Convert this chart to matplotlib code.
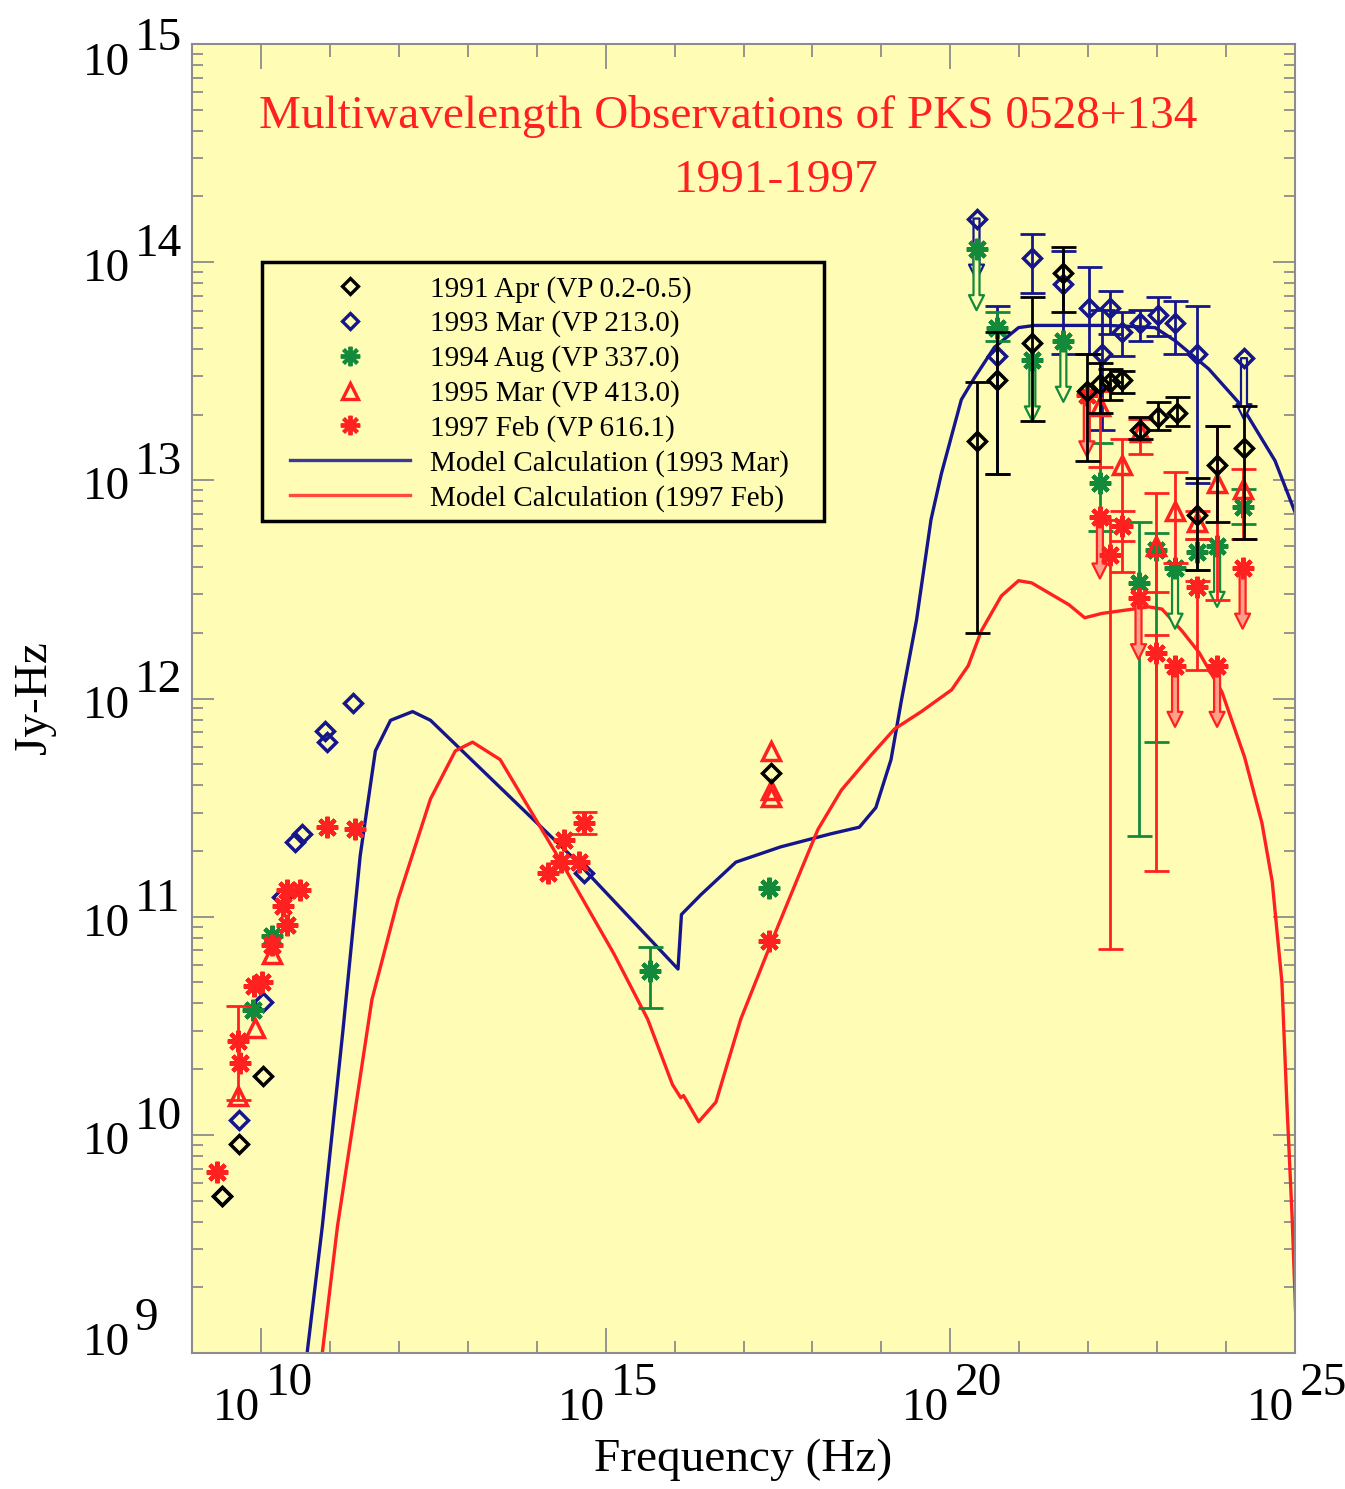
import numpy as np
import matplotlib
matplotlib.use("Agg")
import matplotlib.pyplot as plt
from matplotlib.ticker import FixedLocator, NullFormatter
from matplotlib.lines import Line2D
from matplotlib.patches import Rectangle

plt.rcParams["font.family"] = ["Liberation Serif", "DejaVu Serif"]
nan = np.nan

# All values: log10(frequency / Hz) and log10(nu F_nu / Jy Hz)

# ---- 1991 Apr (VP 0.2-0.5) ----
apr91_lognu = [9.43, 9.68, 10.03, 17.40, 20.38, 20.67, 21.19, 21.64, 21.98,
               22.17, 22.31, 22.49, 22.75, 23.01, 23.29, 23.58, 23.87, 24.26]
apr91_logf = [9.72, 9.96, 10.27, 11.66, 13.18, 13.46, 13.63, 13.95, 13.41,
              13.44, 13.45, 13.46, 13.23, 13.29, 13.31, 12.84, 13.07, 13.15]
apr91_lo = [nan, nan, nan, nan, 12.30, 13.03, 13.27, 13.77, 13.09,
            13.31, 13.37, 13.40, 13.19, 13.23, 13.25, 12.59, 12.81, 12.73]
apr91_hi = [nan, nan, nan, nan, 13.45, 13.68, 13.84, 14.07, 13.58,
            13.54, 13.51, 13.50, 13.29, 13.36, 13.38, 13.01, 13.25, 13.34]
apr91_ul_lognu = []
apr91_ul_logf = []

# ---- 1993 Mar (VP 213.0) ----
mar93_lognu = [9.43, 9.68, 10.03, 10.31, 10.49, 10.60, 10.93, 10.96, 11.34,
               14.68, 20.67, 21.19, 21.64, 22.01, 22.20, 22.31, 22.49, 22.75,
               23.01, 23.26, 23.58]
mar93_logf = [9.72, 10.07, 10.61, 11.09, 11.34, 11.38, 11.85, 11.80, 11.98,
              11.20, 13.57, 14.02, 13.90, 13.79, 13.58, 13.79, 13.68, 13.72,
              13.76, 13.72, 13.58]
mar93_lo = [nan, nan, nan, nan, nan, nan, nan, nan, nan,
            nan, 13.03, 13.86, 13.58, 13.58, 13.23, 13.67, 13.57, 13.64,
            13.66, 13.58, 12.99]
mar93_hi = [nan, nan, nan, nan, nan, nan, nan, nan, nan,
            nan, 13.80, 14.13, 14.05, 13.98, 13.78, 13.87, 13.77, 13.78,
            13.84, 13.82, 13.80]
mar93_ul_lognu = [20.38, 24.26]
mar93_ul_logf = [14.20, 13.56]

# ---- 1994 Aug (VP 337.0) ----
aug94_lognu = [9.88, 10.16, 15.65, 17.37, 20.67, 22.17, 22.73, 22.99, 23.58, 24.24]
aug94_logf = [10.57, 10.91, 10.75, 11.13, 13.70, 12.99, 12.53, 12.68, 12.67, 12.88]
aug94_lo = [nan, nan, 10.58, nan, 13.64, 12.77, 11.37, 11.80, 12.59, 12.80]
aug94_hi = [nan, nan, 10.86, nan, 13.77, 13.17, 12.81, 12.76, 12.73, 12.96]
aug94_ul_lognu = [20.38, 21.19, 21.64, 23.26, 23.87]
aug94_ul_logf = [14.06, 13.55, 13.64, 12.60, 12.70]

# ---- 1995 Mar (VP 413.0) ----
mar95_lognu = [9.67, 9.91, 10.16, 17.40, 17.40, 17.40, 22.17, 22.49, 22.75,
               22.99, 23.26, 23.58, 23.87, 24.24]
mar95_logf = [10.18, 10.49, 10.83, 11.76, 11.58, 11.55, 13.34, 13.07, 13.22,
              12.70, 12.86, 12.81, 12.99, 12.96]
mar95_lo = [nan, nan, nan, nan, nan, nan, 13.06, 12.58, 13.12,
            12.49, 12.62, 12.73, 12.45, 12.73]
mar95_hi = [nan, nan, nan, nan, nan, nan, 13.41, 13.19, 13.28,
            12.94, 13.04, 12.86, 13.25, 13.05]
mar95_ul_lognu = []
mar95_ul_logf = []

# ---- 1997 Feb (VP 616.1) ----
feb97_lognu = [9.36, 9.67, 9.69, 9.90, 10.01, 10.16, 10.32, 10.38, 10.38,
               10.57, 10.96, 11.37, 14.16, 14.35, 14.39, 14.61, 14.68, 17.37,
               22.31, 22.49, 22.99, 23.58]
feb97_logf = [9.83, 10.43, 10.33, 10.68, 10.70, 10.87, 11.05, 10.96, 11.12,
              11.12, 11.41, 11.40, 11.20, 11.25, 11.35, 11.25, 11.43, 10.89,
              12.66, 12.79, 12.21, 12.51]
feb97_lo = [nan, 10.16, nan, nan, nan, nan, nan, nan, nan,
            nan, nan, nan, nan, nan, nan, nan, 11.38, nan,
            10.85, 12.72, 11.21, 12.13]
feb97_hi = [nan, 10.59, nan, nan, nan, nan, nan, nan, nan,
            nan, nan, nan, nan, nan, nan, nan, 11.48, nan,
            12.82, 12.86, 12.29, 12.54]
feb97_ul_lognu = [21.98, 22.17, 22.73, 23.26, 23.87, 24.24]
feb97_ul_logf = [13.39, 12.83, 12.46, 12.15, 12.15, 12.60]

# ---- Model calculations ----
model93_lognu = [10.67, 10.89, 11.19, 11.44, 11.66, 11.88, 12.20, 12.46, 14.56,
                 16.05, 16.10, 16.38, 16.89, 17.54, 18.27, 18.68, 18.92, 19.14,
                 19.29, 19.51, 19.72, 19.87, 20.16, 20.35, 20.64, 20.99, 21.22,
                 22.30, 22.97, 23.26, 23.75, 24.23, 24.71, 25.03]
model93_logf = [9.00, 9.58, 10.48, 11.28, 11.76, 11.90, 11.94, 11.90, 11.26,
                10.76, 11.01, 11.10, 11.25, 11.32, 11.38, 11.41, 11.50, 11.72,
                11.99, 12.36, 12.82, 13.03, 13.37, 13.47, 13.61, 13.70, 13.71,
                13.71, 13.70, 13.64, 13.51, 13.34, 13.09, 12.83]

model97_lognu = [10.89, 11.11, 11.37, 11.61, 11.99, 12.46, 12.82, 13.07, 13.47,
                 14.45, 15.12, 15.61, 15.97, 16.09, 16.13, 16.35, 16.60, 16.96,
                 17.44, 17.83, 18.08, 18.42, 18.85, 19.19, 19.58, 20.02, 20.26,
                 20.45, 20.74, 20.99, 21.18, 21.72, 21.95, 22.20, 22.88, 23.07,
                 23.36, 23.61, 23.94, 24.27, 24.52, 24.67, 24.81, 24.88, 24.96,
                 25.03]
model97_logf = [9.00, 9.58, 10.12, 10.62, 11.08, 11.54, 11.76, 11.80, 11.72,
                11.20, 10.83, 10.53, 10.23, 10.17, 10.18, 10.06, 10.15, 10.53,
                10.91, 11.21, 11.40, 11.58, 11.74, 11.86, 11.94, 12.04, 12.15,
                12.31, 12.47, 12.54, 12.53, 12.43, 12.37, 12.39, 12.42, 12.41,
                12.31, 12.21, 12.03, 11.73, 11.43, 11.16, 10.70, 10.16, 9.61,
                9.00]

BG = "#FFFDB5"
C_BLACK = "#000000"
C_BLUE = "#16168c"
C_GREEN = "#13893a"
C_RED = "#ff2020"
C_AXIS = "#8c8c8c"

fig = plt.figure(figsize=(13.45, 14.89), dpi=100)
ax = fig.add_axes([192 / 1345, 1 - 1353 / 1489, 1103 / 1345, 1309 / 1489])
ax.set_facecolor(BG)
ax.set_xscale("log")
ax.set_yscale("log")
ax.set_xlim(1e9, 1e25)
ax.set_ylim(1e9, 1e15)

for sp in ax.spines.values():
    sp.set_color(C_AXIS)
    sp.set_linewidth(1.5)

ax.xaxis.set_major_locator(FixedLocator([1e10, 1e15, 1e20, 1e25]))
ax.xaxis.set_minor_locator(FixedLocator([10.0 ** k for k in range(9, 26) if k % 5]))
ax.yaxis.set_major_locator(FixedLocator([10.0 ** k for k in range(9, 16)]))
ax.yaxis.set_minor_locator(FixedLocator([m * 10.0 ** k for k in range(9, 15) for m in range(2, 10)]))
for axis in (ax.xaxis, ax.yaxis):
    axis.set_major_formatter(NullFormatter())
    axis.set_minor_formatter(NullFormatter())
ax.tick_params(which="both", direction="in", top=True, right=True,
               color=C_AXIS, width=1.3)
ax.tick_params(axis="x", which="major", length=18)
ax.tick_params(axis="x", which="minor", length=9)
ax.tick_params(axis="y", which="major", length=16)
ax.tick_params(axis="y", which="minor", length=8)

# Model curves
ax.plot(10 ** np.array(model93_lognu), 10 ** np.array(model93_logf),
        color=C_BLUE, lw=2.4, zorder=2)
ax.plot(10 ** np.array(model97_lognu), 10 ** np.array(model97_logf),
        color=C_RED, lw=2.4, zorder=2)

UL_LEN = 0.28  # length of the upper-limit arrows, in decades


def draw_series(lognu, logf, lo, hi, ul_nu, ul_f, color, marker, ms, mew, fill, z):
    lognu = np.asarray(lognu, float)
    logf = np.asarray(logf, float)
    lo = np.asarray(lo, float)
    hi = np.asarray(hi, float)
    x = 10 ** lognu
    y = 10 ** logf
    has = ~np.isnan(lo)
    if has.any():
        ax.errorbar(x[has], y[has],
                    yerr=[y[has] - 10 ** lo[has], 10 ** hi[has] - y[has]],
                    fmt="none", ecolor=color, elinewidth=2.0, capsize=9,
                    capthick=2.0, zorder=z)
    for un, uf in zip(ul_nu, ul_f):
        ax.annotate("", xy=(10 ** un, 10 ** (uf - UL_LEN)), xytext=(10 ** un, 10 ** uf),
                    arrowprops=dict(arrowstyle="simple,head_length=0.6,head_width=0.6,tail_width=0.24",
                                    fc=fill, ec=color, lw=1.6, shrinkA=0, shrinkB=0,
                                    mutation_scale=18),
                    zorder=z)
    allx = np.concatenate([x, 10 ** np.asarray(ul_nu, float)])
    ally = np.concatenate([y, 10 ** np.asarray(ul_f, float)])
    ax.plot(allx, ally, ls="none", marker=marker, ms=ms, mfc="none",
            mec=color, mew=mew, zorder=z + 0.1)


ASTER = (8, 2, 0)
draw_series(mar93_lognu, mar93_logf, mar93_lo, mar93_hi, mar93_ul_lognu, mar93_ul_logf,
            C_BLUE, "D", 9.5, 2.5, BG, 3)
draw_series(aug94_lognu, aug94_logf, aug94_lo, aug94_hi, aug94_ul_lognu, aug94_ul_logf,
            C_GREEN, ASTER, 15.5, 3.0, BG, 3.2)
draw_series(mar95_lognu, mar95_logf, mar95_lo, mar95_hi, mar95_ul_lognu, mar95_ul_logf,
            C_RED, "^", 13, 2.5, BG, 3.4)
draw_series(feb97_lognu, feb97_logf, feb97_lo, feb97_hi, feb97_ul_lognu, feb97_ul_logf,
            C_RED, ASTER, 15.5, 3.0, "#ffa08a", 3.6)
draw_series(apr91_lognu, apr91_logf, apr91_lo, apr91_hi, apr91_ul_lognu, apr91_ul_logf,
            C_BLACK, "D", 9.5, 2.5, BG, 3.8)

# Tick labels: "10" with a full-size exponent
TICK_FS = 34
for k in range(9, 16):
    dy = {15: -12, 9: 17}.get(k, 0)
    ax.annotate("10", xy=(0, 10.0 ** k), xycoords=("axes fraction", "data"),
                xytext=(-62, -19 + dy), textcoords="offset pixels",
                ha="right", va="baseline", fontsize=TICK_FS, annotation_clip=False)
    ax.annotate(str(k), xy=(0, 10.0 ** k), xycoords=("axes fraction", "data"),
                xytext=(-57, 6 + dy), textcoords="offset pixels",
                ha="left", va="baseline", fontsize=TICK_FS, annotation_clip=False)
for k in (10, 15, 20, 25):
    ax.annotate("10", xy=(10.0 ** k, 0), xycoords=("data", "axes fraction"),
                xytext=(-1, -67), textcoords="offset pixels",
                ha="right", va="baseline", fontsize=TICK_FS, annotation_clip=False)
    ax.annotate(str(k), xy=(10.0 ** k, 0), xycoords=("data", "axes fraction"),
                xytext=(5, -42), textcoords="offset pixels",
                ha="left", va="baseline", fontsize=TICK_FS, annotation_clip=False)

# Title inside the frame
ax.text(0.486, 0.9445, "Multiwavelength Observations of PKS 0528+134",
        transform=ax.transAxes, ha="center", va="center", color=C_RED, fontsize=34)
ax.text(0.530, 0.8955, "1991-1997",
        transform=ax.transAxes, ha="center", va="center", color=C_RED, fontsize=34)

# Axis titles
fig.text(743 / 1345, 1 - 1460 / 1489, "Frequency (Hz)", ha="center", va="center",
         fontsize=34)
fig.text(35 / 1345, 1 - 698 / 1489, "Jy-Hz", ha="center", va="center",
         rotation=90, fontsize=34)

# Legend with a heavy frame
ax.add_patch(Rectangle((0.0635, 0.6353), 0.5095, 0.198, transform=ax.transAxes,
                       fc=BG, ec="black", lw=2.5, zorder=5))
handles = [
    Line2D([], [], ls="none", marker="D", ms=8, mfc="none", mec=C_BLACK, mew=2.4),
    Line2D([], [], ls="none", marker="D", ms=8, mfc="none", mec=C_BLUE, mew=2.4),
    Line2D([], [], ls="none", marker=ASTER, ms=14, mfc="none", mec=C_GREEN, mew=2.8),
    Line2D([], [], ls="none", marker="^", ms=12, mfc="none", mec=C_RED, mew=2.4),
    Line2D([], [], ls="none", marker=ASTER, ms=14, mfc="none", mec=C_RED, mew=2.8),
    Line2D([], [], color="#3a3a9a", lw=2.4),
    Line2D([], [], color="#ff4a3a", lw=2.4),
]
labels = ["1991 Apr (VP 0.2-0.5)", "1993 Mar (VP 213.0)", "1994 Aug (VP 337.0)",
          "1995 Mar (VP 413.0)", "1997 Feb (VP 616.1)",
          "Model Calculation (1993 Mar)", "Model Calculation (1997 Feb)"]
leg = ax.legend(handles, labels, loc="upper left", bbox_to_anchor=(0.0888, 0.823),
                frameon=False, fontsize=21, borderpad=0, borderaxespad=0,
                handlelength=4.1, handletextpad=0.7, labelspacing=0.27)
leg.set_zorder(6)

fig.savefig("out.png", dpi=100)
